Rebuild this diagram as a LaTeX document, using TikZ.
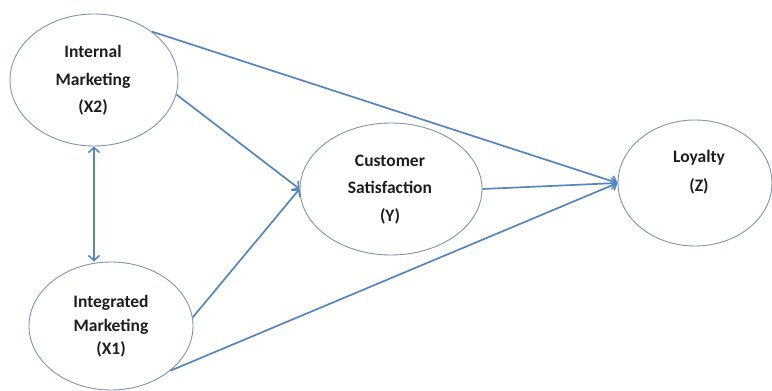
\documentclass[tikz,border=0pt]{standalone}
\usepackage{fontspec}
\setmainfont{Carlito}
\usetikzlibrary{shapes.geometric,arrows.meta}
\definecolor{linkblue}{RGB}{84,134,192}
\definecolor{rimgray}{RGB}{128,148,178}
\definecolor{inkdark}{RGB}{30,30,30}
\begin{document}
\begin{tikzpicture}[x=1pt,y=1pt,
  >={Straight Barb[length=5pt,width=11pt,line width=1.6pt]},
  construct/.style={ellipse,draw=rimgray,line width=0.9pt,inner sep=0pt},
  caption/.style={align=center,text=inkdark,inner sep=0pt},
  link/.style={draw=linkblue,line width=1.7pt,->}]
\useasboundingbox (0,0) rectangle (772,391);

% latent constructs
\node[construct,minimum width=168pt,minimum height=132pt] (x2) at (94,311) {};
\node[construct,minimum width=164pt,minimum height=128pt] (x1) at (111,65) {};
\node[construct,minimum width=182pt,minimum height=132pt] (y)  at (391,202) {};
\node[construct,minimum width=154pt,minimum height=126pt] (z)  at (695,208) {};

% construct names
\node[caption,font=\fontsize{17.5}{27.5}\selectfont\bfseries] (x2t) at (93,310.5) {Internal\\Marketing\\(X2)};
\node[caption,font=\fontsize{17.5}{23.5}\selectfont\bfseries] (x1t) at (111,64.5) {Integrated\\Marketing\\(X1)};
\node[caption,font=\fontsize{17.5}{27.5}\selectfont\bfseries] (yt) at (390,201.5) {Customer\\Satisfaction\\(Y)};
\node[caption,font=\fontsize{17.5}{29}\selectfont\bfseries] (zt) at (699,218.5) {Loyalty\\(Z)};

% paths
\draw[link,<->] (x2.south) -- (x2.south |- x1.north);
\draw[link] (x2.40) -- (z.west);
\draw[link] (x2.-10) -- (y.west);
\draw[link] (x1.6) -- (y.west);
\draw[link] (x1.-37) -- (z.west);
\draw[link] (y.east) -- (z.west);
\end{tikzpicture}
\end{document}
